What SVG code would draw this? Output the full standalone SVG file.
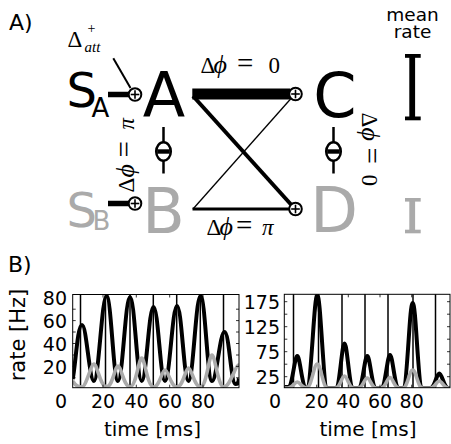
<svg xmlns="http://www.w3.org/2000/svg" width="451" height="444" viewBox="0 0 451 444">
<style>
.sans{font-family:"DejaVu Sans","Liberation Sans",sans-serif;}
.math{font-family:"Liberation Serif","DejaVu Serif",serif;font-size:23px;}
.eq{font-size:29px;}
.it{font-style:italic;}
.phi{font-style:italic;font-size:26px;}
.blk{fill:#000;}
.gry{fill:#aaaaaa;}
.plus circle{fill:#fff;stroke:#000;stroke-width:2;}
.plus line{stroke:#000;stroke-width:1.6;}
.tick{stroke:#000;stroke-width:0.8;}
.tl{font-family:"DejaVu Sans","Liberation Sans",sans-serif;font-size:19px;}
</style>
<defs>
<g id="plus" class="plus"><circle r="6.3"/><line x1="-4.3" y1="0" x2="4.3" y2="0"/><line x1="0" y1="-4.3" x2="0" y2="4.3"/></g>
<g id="minus"><line x1="0" y1="-24.5" x2="0" y2="22" stroke="#000" stroke-width="2.5"/><ellipse cx="0" cy="0" rx="7.3" ry="9.3" fill="#fff" stroke="#000" stroke-width="2.5"/><rect x="-6.3" y="-2.2" width="12.6" height="4.4" fill="#000"/></g>
<clipPath id="c1"><rect x="72.7" y="294.5" width="166.3" height="93.2"/></clipPath>
<clipPath id="c2"><rect x="284.3" y="294.3" width="165.7" height="93.4"/></clipPath>
</defs>
<rect width="451" height="444" fill="#fff"/>

<text class="sans" x="9" y="29.5" font-size="22">A)</text>
<text class="sans" x="8" y="272" font-size="22">B)</text>

<!-- connectors -->
<g id="connectors" fill="none" stroke="#000">
<line x1="113.3" y1="58.3" x2="130.5" y2="88" stroke-width="2"/>
<line x1="108" y1="94.5" x2="129" y2="94.5" stroke-width="5.5"/>
<line x1="108" y1="203.5" x2="129" y2="203.5" stroke-width="5.5"/>
<line x1="192.3" y1="94" x2="290" y2="94" stroke-width="11"/>
<line x1="193" y1="96" x2="291" y2="204.5" stroke-width="4"/>
<line x1="193" y1="209" x2="291" y2="98.5" stroke-width="1.3"/>
<line x1="192.5" y1="209" x2="290" y2="209" stroke-width="3"/>
</g>

<g id="SA"><text class="sans blk" x="66.5" y="106.5" font-size="48">S<tspan x="91.5" y="116.5" font-size="26">A</tspan></text></g>
<g id="SB"><text class="sans gry" x="66.5" y="226.5" font-size="48">S<tspan x="92.5" y="229.5" font-size="26">B</tspan></text></g>
<g id="attnode"><text class="math" x="67.5" y="46.5">Δ<tspan x="87.5" y="33" font-size="14">+</tspan><tspan x="84.5" y="52" font-size="15" font-style="italic">att</tspan></text></g>
<g id="plusA"><use href="#plus" x="135" y="94.5"/></g>
<g id="plusB"><use href="#plus" x="135" y="203.5"/></g>
<g id="plusC"><use href="#plus" x="295.5" y="94"/></g>
<g id="plusD"><use href="#plus" x="295.5" y="209"/></g>

<g id="A"><text class="sans blk" x="164" y="116.5" font-size="62" text-anchor="middle">A</text></g>
<g id="B"><text class="sans gry" x="163.5" y="232.5" font-size="62" text-anchor="middle">B</text></g>
<g id="C"><text class="sans blk" x="335" y="116.5" font-size="62" text-anchor="middle">C</text></g>
<g id="D"><text class="sans gry" x="334" y="231.5" font-size="62" text-anchor="middle">D</text></g>

<g id="inhAB"><use href="#minus" x="163.5" y="151.5"/></g>
<g id="inhCD"><use href="#minus" x="333.5" y="151.5"/></g>

<text class="math" y="73"><tspan x="200.5">Δ</tspan><tspan x="213.5" class="phi">ϕ</tspan><tspan x="237" class="eq">=</tspan><tspan x="268.5">0</tspan></text>
<text class="math" y="235"><tspan x="206.5">Δ</tspan><tspan x="219.5" class="phi">ϕ</tspan><tspan x="236" class="eq">=</tspan><tspan x="262" class="it">π</tspan></text>
<text class="math" transform="translate(133.5,192.5) rotate(-90)" y="0"><tspan x="0">Δ</tspan><tspan x="15" class="phi">ϕ</tspan><tspan x="35" class="eq">=</tspan><tspan x="63" class="it">π</tspan></text>
<text class="math" transform="translate(361.5,112.5) rotate(90)" y="0"><tspan x="0">Δ</tspan><tspan x="15" class="phi">ϕ</tspan><tspan x="35" class="eq">=</tspan><tspan x="62">0</tspan></text>

<g id="meanrate">
<text class="sans" x="412.5" y="20.5" font-size="18.5" text-anchor="middle">mean</text>
<text class="sans" x="412.5" y="37.5" font-size="18.5" text-anchor="middle">rate</text>
<g fill="#000"><rect x="409.3" y="55" width="5.8" height="65"/><rect x="405" y="54" width="15.7" height="3.8"/><rect x="405" y="116.5" width="15.7" height="3.8"/></g>
<g fill="#aaaaaa"><rect x="409.3" y="198.5" width="5.8" height="34.5"/><rect x="405" y="198" width="15.7" height="3.6"/><rect x="405" y="229.7" width="15.7" height="3.6"/></g>
</g>

<!-- plot 1 -->
<g id="plot1">
<g clip-path="url(#c1)" fill="none">
<g stroke="#000" stroke-width="1.5"><line x1="80.5" y1="294" x2="80.5" y2="388"/><line x1="105.5" y1="294" x2="105.5" y2="388"/><line x1="130" y1="294" x2="130" y2="388"/><line x1="153.3" y1="294" x2="153.3" y2="388"/><line x1="176.7" y1="294" x2="176.7" y2="388"/><line x1="200.3" y1="294" x2="200.3" y2="388"/><line x1="223.5" y1="294" x2="223.5" y2="388"/></g>
<path stroke="#000" stroke-width="4" d="M72.7,379 C75.5,366 77.5,325 82,325 S89.3,381 94,381 S101.8,296 106.5,296 S113.3,381 118,381 S125.3,297 130,297 S137,381 141.7,381 S148.8,307 153.5,307 S160.3,381 165,381 S172.3,306 177,306 S183.8,381 188.5,381 S195.8,296 200.5,296 S207.3,381 212,381 S219.8,332 224.5,332 S231,384 235.5,384 S238,380 239,379"/>
<path stroke="#aaaaaa" stroke-width="3.6" d="M72.7,381 C76,386 78,387 82,387 S91,364 94,364 S100.5,387 106.5,387 S115,366 118,366 S124,387 130,387 S138.7,358 141.7,358 S147.5,387 153.5,387 S162,370 165,370 S171,387 177,387 S185.5,368 188.5,368 S194.5,387 200.5,387 S209,355 212,355 S218,387 224,387 S235.5,365 238.5,365 L240,365"/>
</g>
<rect x="72.7" y="294.5" width="166.3" height="93.2" fill="none" stroke="#000" stroke-width="1"/>
<path class="tick" d="M72.7,309.2h3M72.7,320.6h3M72.7,332h3M72.7,343.5h3M72.7,355h3M72.7,366.4h3M72.7,377.8h3M239,309.2h-3M239,320.6h-3M239,332h-3M239,343.5h-3M239,355h-3M239,366.4h-3M239,377.8h-3M103,294.5v3M136.3,294.5v3M169.7,294.5v3M203,294.5v3M103,387.7v-3M136.3,387.7v-3M169.7,387.7v-3M203,387.7v-3"/>
<g class="tl" text-anchor="end"><text x="67" y="305">80</text><text x="67" y="328">60</text><text x="67" y="350.8">40</text><text x="67" y="373.6">20</text></g>
<g class="tl" text-anchor="middle"><text x="61" y="408">0</text><text x="103" y="408">20</text><text x="136.5" y="408">40</text><text x="170" y="408">60</text><text x="203" y="408">80</text></g>
<text class="sans" x="152.5" y="436" font-size="20" text-anchor="middle">time [ms]</text>
<text class="sans" transform="translate(25,335) rotate(-90)" font-size="21" text-anchor="middle">rate [Hz]</text>
</g>

<!-- plot 2 -->
<g id="plot2">
<g clip-path="url(#c2)" fill="none">
<g stroke="#000" stroke-width="1.5"><line x1="293.5" y1="294" x2="293.5" y2="388"/><line x1="318.5" y1="294" x2="318.5" y2="388"/><line x1="342" y1="294" x2="342" y2="388"/><line x1="365" y1="294" x2="365" y2="388"/><line x1="388" y1="294" x2="388" y2="388"/><line x1="413" y1="294" x2="413" y2="388"/><line x1="435.5" y1="294" x2="435.5" y2="388"/></g>
<path stroke="#000" stroke-width="4" d="M284.5,387 L288,387 C292.5,387 294.5,356 297.3,356 C300,356 302,388 306.5,388 C311.5,388 313.8,295 317.3,295 C320.8,295 323,388 327.5,388 L335.5,388 C340,388 341.7,343.5 344.5,343.5 C347.3,343.5 349,388 353.5,388 L358.3,388 C362.8,388 364.5,356 367.3,356 C370,356 371.8,388 376.3,388 L381,388 C385.5,388 387.2,355 390,355 C392.8,355 394.5,388 399,388 L402.7,388 C407.7,388 409.2,303 412.7,303 C416.2,303 417.7,388 422.7,388 L430.3,388 C434.8,388 436.5,373.5 439.3,373.5 C442,373.5 444,388 448.3,388 L451,388"/>
<path stroke="#aaaaaa" stroke-width="3.6" d="M284.5,388 L288,388 C292.5,388 294.5,382 297.3,382 C300,382 302,388 306.5,388 C311.5,388 313.8,364 317.3,364 C320.8,364 323,388 327.5,388 L335.5,388 C340,388 341.7,376 344.5,376 C347.3,376 349,388 353.5,388 L358.3,388 C362.8,388 364.5,378 367.3,378 C370,378 371.8,388 376.3,388 L381,388 C385.5,388 387.2,377.5 390,377.5 C392.8,377.5 394.5,388 399,388 L402.7,388 C407.7,388 409.2,370 412.7,370 C416.2,370 417.7,388 422.7,388 L430.3,388 C434.8,388 436.5,381 439.3,381 C442,381 444,388 448.3,388 L451,388"/>
</g>
<rect x="284.3" y="294.3" width="165.7" height="93.4" fill="none" stroke="#000" stroke-width="1"/>
<path class="tick" d="M284.3,301.7h3M284.3,314.2h3M284.3,326.7h3M284.3,339.2h3M284.3,351.7h3M284.3,364.2h3M284.3,376.7h3M450,301.7h-3M450,314.2h-3M450,326.7h-3M450,339.2h-3M450,351.7h-3M450,364.2h-3M450,376.7h-3M316.7,294.3v3M348.3,294.3v3M380,294.3v3M411.7,294.3v3M316.7,387.7v-3M348.3,387.7v-3M380,387.7v-3M411.7,387.7v-3"/>
<g class="tl" text-anchor="end"><text x="280" y="308.5">175</text><text x="280" y="333.5">125</text><text x="280" y="358.5">75</text><text x="280" y="383.5">25</text></g>
<g class="tl" text-anchor="middle"><text x="275" y="408">0</text><text x="316.7" y="408">20</text><text x="348.3" y="408">40</text><text x="380" y="408">60</text><text x="411.7" y="408">80</text></g>
<text class="sans" x="368" y="436" font-size="20" text-anchor="middle">time [ms]</text>
</g>
</svg>
